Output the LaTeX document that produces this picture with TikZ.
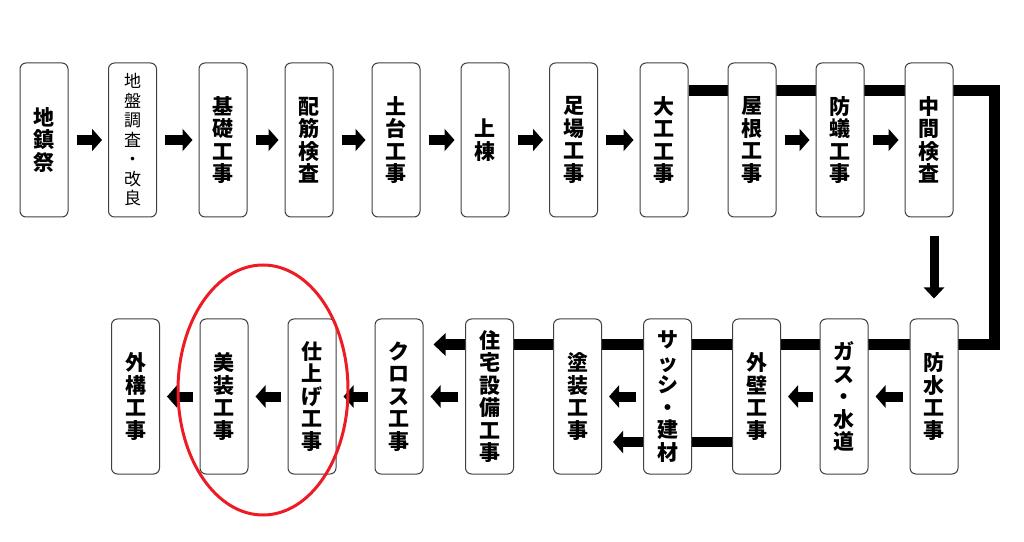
\documentclass[tikz,border=0pt]{standalone}
\usepackage{fontspec}
\setmainfont{Noto Sans CJK JP}
\usepackage{tikz}
\usetikzlibrary{arrows.meta}
\usetikzlibrary{backgrounds}
\definecolor{markred}{RGB}{237,28,36}
\tikzset{
  flowbox/.style={draw=black!75, line width=1pt, fill=white, rounded corners=6pt,
    minimum width=48pt, inner sep=0pt, align=center,
    font=\bfseries\fontsize{21}{22.5}\selectfont},
  blockarrow/.style={line width=10pt, -{Triangle[length=10pt,width=22pt]}},
  route/.style={line width=11pt}
}
\begin{document}
\begin{tikzpicture}[x=1pt, y=1pt]
  \useasboundingbox (0,0) rectangle (1024,541);

	%top row
 \def\dy{401};
 \def\bh{154};
    \foreach \x/\txt/\name in {44/地\\鎮\\祭/jichin, 223/基\\礎\\工\\事/kiso, 309/配\\筋\\検\\査/haikin,
        396/土\\台\\工\\事/dodai, 485/上\\棟/joto, 573.5/足\\場\\工\\事/ashiba, 664/大\\工\\工\\事/daiku,
        752/屋\\根\\工\\事/yane, 840/防\\蟻\\工\\事/boui, 929/中\\間\\検\\査/chukan}{
        \node[flowbox, minimum height=\bh] (\name) at (\x, \dy) {\txt};
    }
    \node[flowbox, minimum height=\bh, font=\fontsize{17}{19.5}\selectfont] (jiban) at (132.5, \dy)
        {地\\盤\\調\\査\\・\\改\\良};

	%bottom row
 \def\dy{144.5};
 \def\bh{155};
    \foreach \x/\txt/\name in {934/防\\水\\工\\事/bousui, 844/ガ\\ス\\・\\水\\道/gas, 756.5/外\\壁\\工\\事/gaiheki,
        667.5/サ\\ッ\\シ\\・\\建\\材/sash, 577.5/塗\\装\\工\\事/tosou, 489.5/住\\宅\\設\\備\\工\\事/jutaku,
        399/ク\\ロ\\ス\\工\\事/kurosu, 312/仕\\上\\げ\\工\\事/shiage, 224/美\\装\\工\\事/bisou,
        135.5/外\\構\\工\\事/gaikou}{
        \node[flowbox, minimum height=\bh] (\name) at (\x, \dy) {\txt};
    }

	%arrows
    \foreach \a/\b in {jichin/jiban, jiban/kiso, kiso/haikin, haikin/dodai, dodai/joto,
        joto/ashiba, ashiba/daiku, yane/boui, boui/chukan}{
        \draw[blockarrow, shorten <=8pt, shorten >=6pt] (\a.east) -- (\b.west);
    }
    \foreach \a/\b in {bousui/gas, gas/gaiheki, sash/tosou, jutaku/kurosu,
        kurosu/shiage, shiage/bisou, bisou/gaikou}{
        \draw[blockarrow, shorten <=7pt, shorten >=7pt] (\a.west) -- (\b.east);
    }
    \draw[line width=9pt, -{Triangle[length=11pt,width=20pt]}, shorten <=19pt, shorten >=20pt]
        (chukan.south -| bousui.north) -- (bousui.north);

	%long lines behind the boxes
    \coordinate (c1) at (994, 450.5);
    \coordinate (c2) at (994, 196.5);
  \begin{scope}[on background layer]
    \draw[route, -{Triangle[length=12pt,width=22pt]}, shorten >=10pt]
        ([yshift=49.5pt]daiku.east) -- (c1) -- (c2) -- ([yshift=52pt]kurosu.east);
    \draw[blockarrow, shorten >=11pt] ([yshift=-45.5pt]gaiheki.west) -- ([yshift=-45.5pt]tosou.east);
  \end{scope}

	%mark
    \draw[markred, line width=3pt] (263, 151) ellipse [x radius=85, y radius=125];

\end{tikzpicture}
\end{document}
